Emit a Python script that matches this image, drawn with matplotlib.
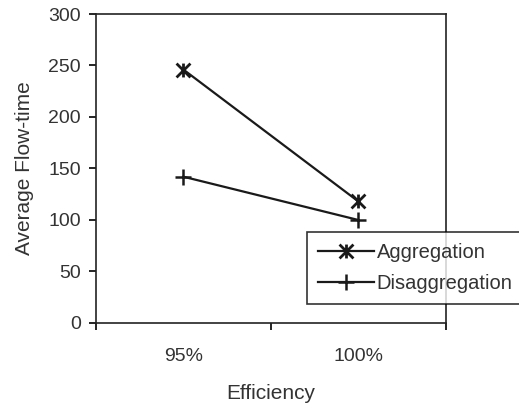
import numpy as np
import matplotlib.pyplot as plt
from matplotlib.path import Path

categories = ['95%', '100%']
aggregation = [246, 118]
disaggregation = [142, 100]
yticks = [0, 50, 100, 150, 200, 250, 300]

plt.rcParams['font.family'] = ['Liberation Sans', 'DejaVu Sans']

# Excel-like star marker: an x with a vertical bar through it
star = Path([(-1, -1), (1, 1), (-1, 1), (1, -1), (0, -1), (0, 1)],
            [Path.MOVETO, Path.LINETO, Path.MOVETO, Path.LINETO,
             Path.MOVETO, Path.LINETO])

fig = plt.figure(figsize=(5.19, 4.07), dpi=100)
ax = fig.add_axes([0.185, 0.2064, 0.674, 0.7592])

x = np.arange(len(categories))
ax.plot(x, aggregation, c='#1a1a1a', lw=1.6, marker=star, ms=10,
        mew=2, label='Aggregation')
ax.plot(x, disaggregation, c='#1a1a1a', lw=1.6, marker='+', ms=12,
        mew=1.8, label='Disaggregation')

ax.set_xlim(-0.5, 1.5)
ax.set_ylim(0, 300)
ax.set_yticks(yticks)
ax.set_xticks(x)
ax.set_xticklabels(categories)
ax.set_xticks([-0.5, 0.5, 1.5], minor=True)
ax.tick_params(axis='x', which='major', length=0, pad=18, labelsize=14,
               labelcolor='#333333')
ax.tick_params(axis='x', which='minor', length=5, width=1.2, direction='out')
ax.tick_params(axis='y', length=5, width=1.2, direction='out', labelsize=14,
               labelcolor='#333333', pad=6)
for s in ax.spines.values():
    s.set_linewidth(1.2)
    s.set_color('#222222')

ax.set_xlabel('Efficiency', fontsize=15, color='#333333', labelpad=14)
ax.set_ylabel('Average Flow-time', fontsize=15, color='#333333', labelpad=10)

leg = fig.legend(loc='lower left', bbox_to_anchor=(0.5915, 0.253),
                 fontsize=14.5, frameon=True, fancybox=False,
                 edgecolor='black', handlelength=2.8, handletextpad=0.1,
                 borderpad=0.55, labelspacing=0.6, borderaxespad=0)
leg.get_frame().set_linewidth(1.2)
for t in leg.get_texts():
    t.set_color('#333333')

fig.savefig('out.png', dpi=100)
